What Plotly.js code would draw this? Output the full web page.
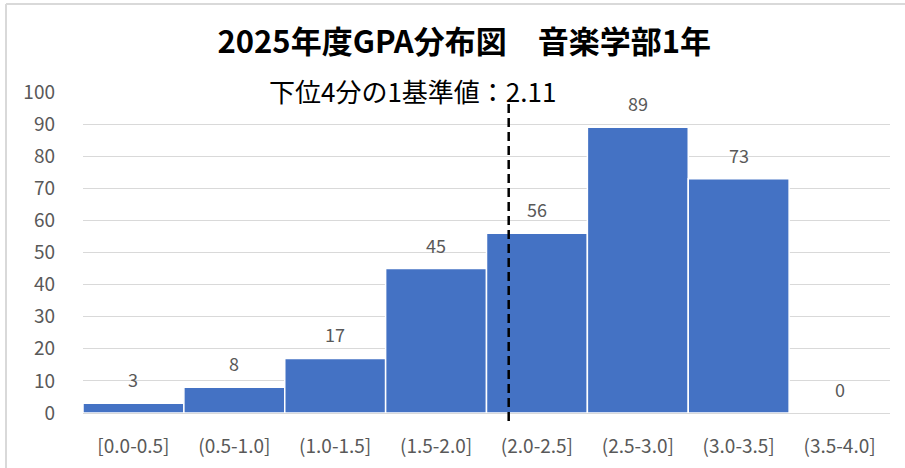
<!DOCTYPE html>
<html>
<head>
<meta charset="utf-8">
<script src="https://cdn.plot.ly/plotly-3.0.1.min.js"></script>
<style>html,body{margin:0;padding:0;background:#fff;}#chart{width:905px;height:468px;}</style>
</head>
<body>
<div id="chart"></div>
<script>
// Data
const categories = ['[0.0-0.5]', '(0.5-1.0]', '(1.0-1.5]', '(1.5-2.0]', '(2.0-2.5]', '(2.5-3.0]', '(3.0-3.5]', '(3.5-4.0]'];
const counts = [3, 8, 17, 45, 56, 89, 73, 0];
const binWidth = 0.5;
const gpaMin = 0;
const quartileValue = 2.11;
const chartTitle = '2025年度GPA分布図　音楽学部1年';
const quartileLabel = '下位4分の1基準値：' + quartileValue.toFixed(2);
const yTicks = [0, 10, 20, 30, 40, 50, 60, 70, 80, 90, 100];

const W = 905, H = 468;
const margin = {l: 83, r: 15, t: 92, b: 55};
const plotW = W - margin.l - margin.r;
const plotH = H - margin.t - margin.b;
const pxX = p => (p - margin.l) / plotW;
const pxY = p => (H - margin.b - p) / plotH;

const yMax = 100;
const qPaper = ((quartileValue - gpaMin) / binWidth) / categories.length;
const labelFont = '"Noto Sans CJK JP", "Noto Sans", sans-serif';

const trace = {
  type: 'bar',
  x: categories,
  y: counts,
  marker: {color: '#4472C4', line: {color: '#ffffff', width: 1.5}},
  hoverinfo: 'x+y'
};

const labelAnns = categories.map((c, i) => ({
  x: c, y: counts[i], xref: 'x', yref: 'y',
  text: String(counts[i]), showarrow: false,
  yanchor: 'middle', yshift: 24,
  font: {family: labelFont, size: 18, color: '#595959'}
}));

const layout = {
  width: W, height: H,
  margin: margin,
  paper_bgcolor: '#ffffff', plot_bgcolor: '#ffffff',
  showlegend: false,
  bargap: 0,
  title: {
    text: '<b>' + chartTitle + '</b>',
    x: 0.513, xanchor: 'center', y: 1 - 42 / H, yanchor: 'middle',
    font: {family: '"Noto Sans CJK JP", sans-serif', size: 31, color: '#000000'}
  },
  xaxis: {
    type: 'category',
    showgrid: false,
    showline: true, linecolor: '#d9d9d9', linewidth: 1,
    ticks: '', ticklabelstandoff: 16,
    tickfont: {family: labelFont, size: 19, color: '#595959'}
  },
  yaxis: {
    range: [0, yMax],
    tickvals: yTicks,
    ticktext: yTicks.map(String),
    showgrid: true, gridcolor: '#d9d9d9', gridwidth: 1,
    zeroline: false, showline: false,
    ticks: '', ticklabelstandoff: 27,
    tickfont: {family: labelFont, size: 19, color: '#595959'}
  },
  annotations: labelAnns.concat([{
    xref: 'paper', yref: 'paper',
    x: pxX(412), y: pxY(90),
    xanchor: 'center', yanchor: 'middle',
    text: quartileLabel, showarrow: false,
    font: {family: '"Noto Sans CJK JP", sans-serif', size: 26, color: '#000000'}
  }]),
  shapes: [
    {type: 'line', xref: 'paper', yref: 'paper', x0: qPaper, x1: qPaper,
     y0: -2.5 / yMax, y1: 97.5 / yMax,
     line: {color: '#000000', width: 2.5, dash: '9px,5px'}},
    {type: 'line', xref: 'paper', yref: 'paper', x0: pxX(6), x1: pxX(906), y0: pxY(4), y1: pxY(4),
     line: {color: '#d9d9d9', width: 2}},
    {type: 'line', xref: 'paper', yref: 'paper', x0: pxX(6), x1: pxX(6), y0: pxY(4), y1: pxY(470),
     line: {color: '#d9d9d9', width: 2}}
  ]
};

Plotly.newPlot('chart', [trace], layout, {displayModeBar: false, staticPlot: true});
</script>
</body>
</html>
